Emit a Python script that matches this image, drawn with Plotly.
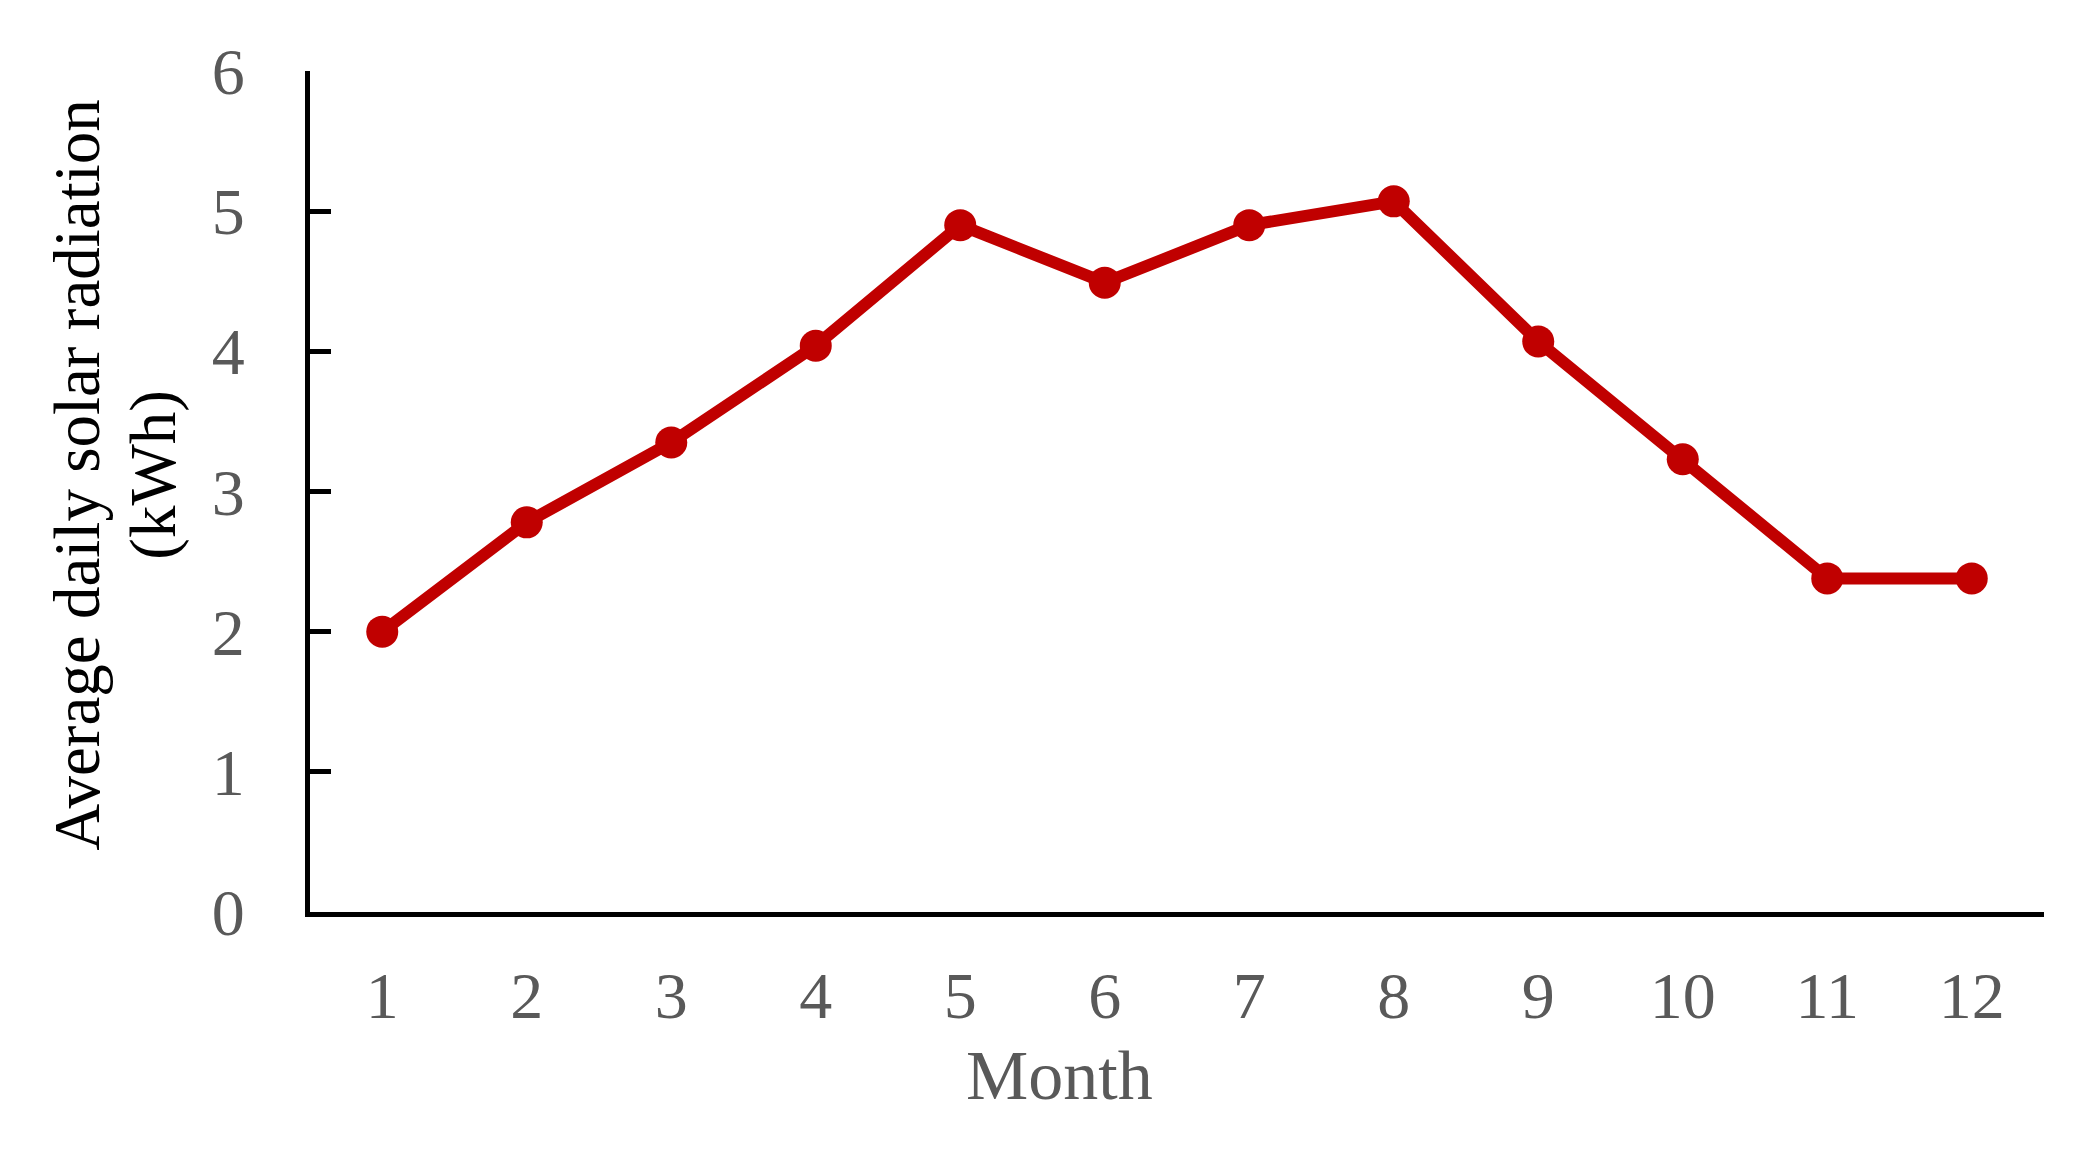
import plotly.graph_objects as go

months = [1, 2, 3, 4, 5, 6, 7, 8, 9, 10, 11, 12]
radiation = [2.0, 2.78, 3.35, 4.04, 4.90, 4.49, 4.90, 5.07, 4.07, 3.23, 2.38, 2.38]
y_ticks = [0, 1, 2, 3, 4, 5, 6]

serif = "Liberation Serif, Times New Roman, serif"
grey = "#595959"

fig = go.Figure()
fig.add_trace(go.Scatter(
    x=months, y=radiation, mode="lines+markers",
    line=dict(color="#C00000", width=12),
    marker=dict(color="#C00000", size=32),
    showlegend=False,
))

fig.update_layout(
    width=2097, height=1155,
    margin=dict(l=302, r=61, t=63, b=251),
    plot_bgcolor="white", paper_bgcolor="white",
    font=dict(family=serif, size=66, color=grey),
    xaxis=dict(
        range=[0.5, 12.5], tickvals=months, ticktext=[str(m) for m in months],
        showline=True, linecolor="black", linewidth=5, showgrid=False, zeroline=False,
        ticks="", ticklabelstandoff=22,
    ),
    yaxis=dict(
        range=[0, 6], tickvals=y_ticks,
        showline=True, linecolor="black", linewidth=5, showgrid=False, zeroline=False,
        ticks="inside", ticklen=21, tickwidth=5, tickcolor="black",
        ticklabelstandoff=47,
    ),
    annotations=[
        dict(text="Month", xref="paper", yref="paper", x=0.4325, y=-0.195,
             xanchor="center", yanchor="middle", showarrow=False,
             font=dict(size=70, color=grey)),
        # y title as two lines so the line spacing can be tighter
        dict(text="Average daily solar radiation", xref="paper", yref="paper",
             x=-0.1344, y=0.52, xanchor="center", yanchor="middle", showarrow=False,
             textangle=-90, font=dict(size=65, color="black")),
        dict(text="(kWh)", xref="paper", yref="paper",
             x=-0.0905, y=0.52, xanchor="center", yanchor="middle", showarrow=False,
             textangle=-90, font=dict(size=65, color="black")),
    ],
)

fig.write_html("out.html")
